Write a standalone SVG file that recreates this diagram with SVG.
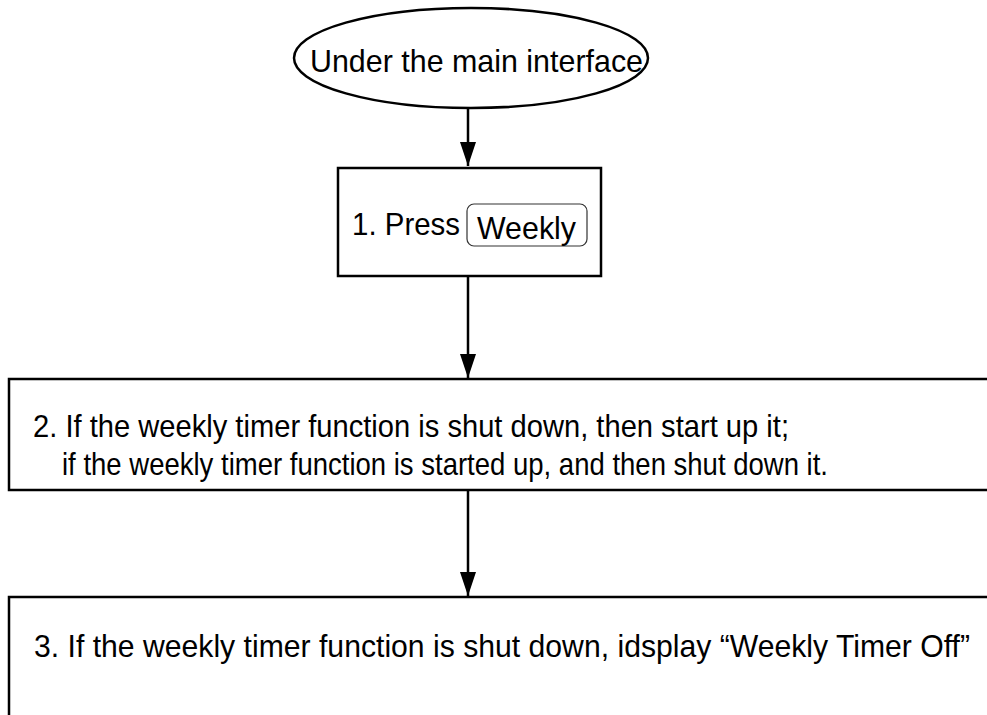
<svg xmlns="http://www.w3.org/2000/svg" width="987" height="715" viewBox="0 0 987 715">
<style>
  .t { font-family: "Liberation Sans", Arial, sans-serif; font-size: 32px; fill: #000; }
  .box { fill: none; stroke: #000; stroke-width: 2.5; }
  .conn { stroke: #000; stroke-width: 2.5; fill: none; }
</style>
<defs>
  <marker id="arr" markerUnits="userSpaceOnUse" markerWidth="24" markerHeight="16" refX="24" refY="8" orient="auto" viewBox="0 0 24 16">
    <path d="M0,0 L24,8 L0,16 Z" fill="#000"/>
  </marker>
</defs>
<rect width="987" height="715" fill="#fff"/>
<g id="start">
  <ellipse cx="471" cy="58" rx="177" ry="50" class="box"/>
  <text class="t" x="310" y="72" textLength="333" lengthAdjust="spacingAndGlyphs">Under the main interface</text>
</g>
<g id="step1">
  <rect x="338" y="168" width="263" height="108" class="box"/>
  <text class="t" x="352" y="235" textLength="108" lengthAdjust="spacingAndGlyphs">1. Press</text>
  <rect x="467" y="204" width="120" height="42" rx="7" fill="none" stroke="#333" stroke-width="1.2"/>
  <text class="t" x="477" y="239" textLength="99" lengthAdjust="spacingAndGlyphs">Weekly</text>
</g>
<g id="step2">
  <path d="M1000,379 H9 V490 H1000" class="box"/>
  <text class="t" x="33" y="437" textLength="756" lengthAdjust="spacingAndGlyphs">2. If the weekly timer function is shut down, then start up it;</text>
  <text class="t" x="62" y="475" textLength="766" lengthAdjust="spacingAndGlyphs">if the weekly timer function is started up, and then shut down it.</text>
</g>
<g id="step3">
  <path d="M1000,597 H9 V720" class="box"/>
  <text class="t" x="34" y="657" textLength="936" lengthAdjust="spacingAndGlyphs">3. If the weekly timer function is shut down, idsplay “Weekly Timer Off”</text>
</g>
<g id="connectors">
  <path d="M468,108 V166" class="conn" marker-end="url(#arr)"/>
  <path d="M468,276 V378" class="conn" marker-end="url(#arr)"/>
  <path d="M468,490 V596" class="conn" marker-end="url(#arr)"/>
</g>
</svg>
